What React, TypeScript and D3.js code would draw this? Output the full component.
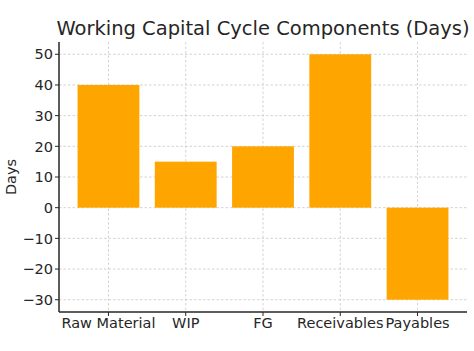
import React from "react";
import * as d3 from "d3";

const categories = ["Raw Material", "WIP", "FG", "Receivables", "Payables"];
const values = [40, 15, 20, 50, -30];
const yTicks = [-30, -20, -10, 0, 10, 20, 30, 40, 50];

const W = 474;
const H = 351;
const left = 59;
const right = 467;
const top = 42;
const bottom = 312;

export default function App() {
  const x = d3.scaleLinear().domain([-0.64, 4.64]).range([left, right]);
  const y = d3.scaleLinear().domain([-34, 54]).range([bottom, top]);
  const font = "DejaVu Sans, sans-serif";
  const textColor = "#262626";
  return (
    <svg width={W} height={H} style={{ position: "absolute", left: 0, top: 0 }}>
      <rect width={W} height={H} fill="white" />
      {yTicks.map((t) => (
        <line key={"gy" + t} x1={left} x2={right} y1={y(t)} y2={y(t)} stroke="#c8c8c8" strokeWidth={0.8} strokeDasharray="2.5,2" />
      ))}
      {categories.map((c, i) => (
        <line key={"gx" + c} x1={x(i)} x2={x(i)} y1={top} y2={bottom} stroke="#c8c8c8" strokeWidth={0.8} strokeDasharray="2.5,2" />
      ))}
      {values.map((v, i) => (
        <rect
          key={"b" + i}
          x={x(i - 0.4)}
          width={x(0.8) - x(0)}
          y={y(Math.max(0, v))}
          height={Math.abs(y(v) - y(0))}
          fill="#FFA500"
        />
      ))}
      <line x1={left} x2={left} y1={top} y2={bottom} stroke="#262626" strokeWidth={1.5} />
      <line x1={left} x2={right} y1={bottom} y2={bottom} stroke="#262626" strokeWidth={1.5} />
      {yTicks.map((t) => (
        <g key={"yt" + t}>
          <line x1={left - 4} x2={left} y1={y(t)} y2={y(t)} stroke="#262626" strokeWidth={1} />
          <text x={left - 6} y={y(t)} dy="0.36em" textAnchor="end" fontFamily={font} fontSize={14.5} fill={textColor}>
            {t < 0 ? "\u2212" + Math.abs(t) : String(t)}
          </text>
        </g>
      ))}
      {categories.map((c, i) => (
        <g key={"xt" + c}>
          <line x1={x(i)} x2={x(i)} y1={bottom} y2={bottom + 4} stroke="#262626" strokeWidth={1} />
          <text x={x(i)} y={328} textAnchor="middle" fontFamily={font} fontSize={14.5} fill={textColor}>
            {c}
          </text>
        </g>
      ))}
      <text
        transform={`translate(16, ${(top + bottom) / 2}) rotate(-90)`}
        textAnchor="middle"
        fontFamily={font}
        fontSize={14.5}
        fill={textColor}
      >
        Days
      </text>
      <text x={(left + right) / 2} y={35} textAnchor="middle" fontFamily={font} fontSize={19.5} fill={textColor}>
        Working Capital Cycle Components (Days)
      </text>
    </svg>
  );
}
